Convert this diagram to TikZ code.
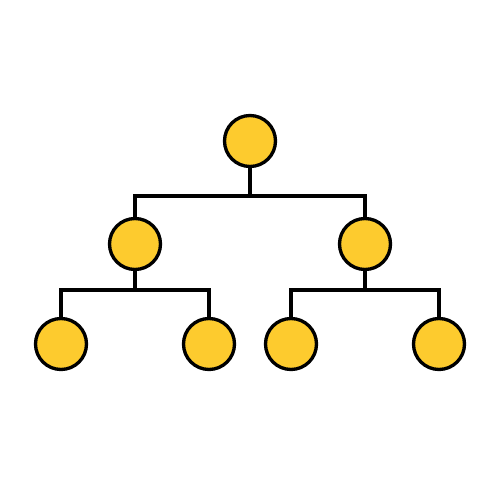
\documentclass[tikz,border=0pt]{standalone}
\usetikzlibrary{calc,positioning}
\definecolor{nodeyellow}{RGB}{253,203,46}

\begin{document}
\begin{tikzpicture} [x=0.02cm,y=-0.02cm,{member/.style={circle,draw=black,fill=nodeyellow,line width=1.9pt,minimum size=1.02cm,inner sep=0pt}},{linkst/.style={color=black,line width=1.9pt}}]
	\useasboundingbox (0,0) rectangle (500,500);
	%%members of the tree
	\node [member] (root) at (250,141) {};
	\node [member] (left) at (135,244) {};
	\node [member] (right) at (365,244) {};
	\node [member] (leftA) at (61,344) {};
	\node [member] (leftB) at (209,344) {};
	\node [member] (rightA) at (291,344) {};
	\node [member] (rightB) at (439,344) {};
	%%branch points
	\coordinate (top) at (250,196);
	\coordinate (leftbar) at (135,290);
	\coordinate (rightbar) at (365,290);
	%%links
	\draw [linkst] (root) -- (top);
	\draw [linkst] (left) |- (top) -| (right);
	\draw [linkst] (left) -- (leftbar);
	\draw [linkst] (leftA) |- (leftbar) -| (leftB);
	\draw [linkst] (right) -- (rightbar);
	\draw [linkst] (rightA) |- (rightbar) -| (rightB);
\end{tikzpicture}
\end{document}
